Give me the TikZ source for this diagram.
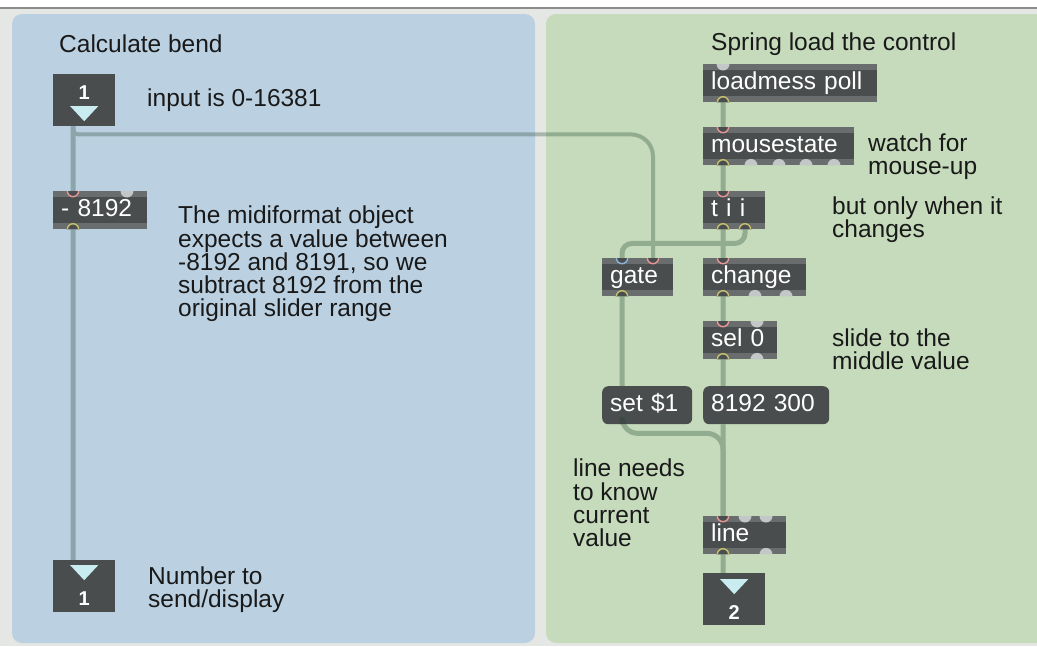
\documentclass[tikz,border=0pt]{standalone}
\usepackage{fontspec}
\setmainfont{Liberation Sans}
\usepackage{tikz}
\definecolor{mbg}{RGB}{229, 231, 229}
\definecolor{mtop}{RGB}{140, 140, 140}
\definecolor{mblue}{RGB}{187, 209, 226}
\definecolor{mgreen}{RGB}{197, 219, 187}
\definecolor{mobj}{RGB}{74, 77, 77}
\definecolor{mband}{RGB}{106, 109, 109}
\definecolor{mtri}{RGB}{200, 236, 240}
\definecolor{mhot}{RGB}{226, 150, 150}
\definecolor{mcold}{RGB}{140, 178, 220}
\definecolor{mout}{RGB}{196, 190, 112}
\definecolor{mport}{RGB}{196, 199, 199}
\definecolor{mcord}{RGB}{29, 64, 42}
\definecolor{mtext}{RGB}{25, 25, 25}
\tikzset{obj/.style = {fill=mobj, text=white, anchor=north west, minimum height=38,
                       inner xsep=8, inner ysep=0, align=left, text height=18, text depth=5,
                       path picture={\fill [mband] (path picture bounding box.north west) rectangle ([yshift=-6pt]path picture bounding box.north east);
                                     \fill [mband] (path picture bounding box.south west) rectangle ([yshift=6pt]path picture bounding box.south east);}}}
\tikzset{msg/.style = {fill=mobj, text=white, anchor=north west, rounded corners=6, minimum height=38,
                       inner xsep=8, inner ysep=0, align=left, text height=18, text depth=5}}
\tikzset{io/.style = {fill=mobj, anchor=north west, minimum width=62, minimum height=52, inner sep=0}}
\tikzset{ionum/.style = {text=white, inner sep=0, font=\fontsize{20}{20}\selectfont\bfseries}}
\tikzset{note/.style = {anchor=west, align=left, inner sep=0, text=mtext}}
\tikzset{cord/.style = {draw=mcord, line width=5}}
\tikzset{hotin/.pic = {\fill [mobj] (-6.5, 0) arc [start angle=180, end angle=0, radius=6.5] -- cycle;
                       \draw [mhot, line width=1.5] (-5.7, 0) arc [start angle=180, end angle=0, radius=5.7];}}
\tikzset{coldin/.pic = {\fill [mobj] (-6.5, 0) arc [start angle=180, end angle=0, radius=6.5] -- cycle;
                        \draw [mcold, line width=1.5] (-5.7, 0) arc [start angle=180, end angle=0, radius=5.7];}}
\tikzset{outp/.pic = {\fill [mobj] (-6.5, 0) arc [start angle=180, end angle=360, radius=6.5] -- cycle;
                      \draw [mout, line width=1.5] (-5.7, 0) arc [start angle=180, end angle=360, radius=5.7];}}
\tikzset{freein/.pic = {\fill [mport] (-6.5, 0) arc [start angle=180, end angle=0, radius=6.5] -- cycle;}}
\tikzset{freeout/.pic = {\fill [mport] (-6.5, 0) arc [start angle=180, end angle=360, radius=6.5] -- cycle;}}

\begin{document}
\begin{tikzpicture}[x=1pt, y=-1pt, font=\fontsize{24.5}{23.3}\selectfont]
    \useasboundingbox (0, 0) rectangle (1037, 646);
    \clip (0, 0) rectangle (1037, 646);
    \fill [mbg] (0, 0) rectangle (1037, 646);
    \fill [white] (0, 0) rectangle (1037, 8);
    \draw [mtop, line width=1.5] (0, 8) -- (1037, 8);

    \fill [mblue, rounded corners=10] (12, 14) rectangle (535, 643);
    \fill [mgreen, rounded corners=10] (546, 14) rectangle (1070, 643);

    % left patch
    \node [note] (calc) at (59, 44) {Calculate bend};
    \node [io] (in1) at (53, 74) {};
    \node [ionum] (in1num) at ([yshift=8pt]in1.center) {1};
    \fill [mtri] (in1.center) ++(-14, 6) -- ++(28, 0) -- ++(-14, 15) -- cycle;
    \node [note] (inrange) at (147, 100) {input is 0-16381};

    \node [obj, text width=78] (minus) at (53, 191) {- 8192};
    \node [note] (midinote) at (178, 264) {The midiformat object\\expects a value between\\-8192 and 8191, so we\\subtract 8192 from the\\original slider range};

    \node [io] (out1) at (53, 560) {};
    \node [ionum] (out1num) at ([yshift=-12pt]out1.center) {1};
    \fill [mtri] (out1.center) ++(-14, -21) -- ++(28, 0) -- ++(-14, 15) -- cycle;
    \node [note] (outnote) at (148, 590) {Number to\\send/display};

    % right patch
    \node [note] (spring) at (711, 44) {Spring load the control};
    \node [obj, text width=158] (lp) at (703, 64) {loadmess poll};
    \node [obj, text width=135] (ms) at (703, 127) {mousestate};
    \node [note] (watch) at (868, 157) {watch for\\mouse-up};
    \node [obj, text width=46] (tii) at (703, 191) {t i i};
    \node [note] (only) at (832, 220) {but only when it\\changes};
    \node [obj, text width=55] (gate) at (602, 258) {gate};
    \node [obj, text width=87] (chg) at (703, 258) {change};
    \node [obj, text width=58] (sel) at (703, 321) {sel 0};
    \node [note] (slide) at (832, 349) {slide to the\\middle value};
    \node [msg, text width=74] (set) at (602, 386) {set \$1};
    \node [msg, text width=110] (target) at (703, 386) {8192 300};
    \node [note] (needs) at (573, 503) {line needs\\to know\\current\\value};
    \node [obj, text width=67] (ln) at (703, 516) {line};
    \node [io] (out2) at (703, 573) {};
    \node [ionum] (out2num) at ([yshift=-13pt]out2.center) {2};
    \fill [mtri] (out2.center) ++(-14, -20) -- ++(28, 0) -- ++(-14, 15) -- cycle;

    \begin{scope}[transparency group, opacity=0.3]
      \draw [cord] ([xshift=20pt]in1.south west) -- ([xshift=20pt]minus.north west);
      \draw [cord, line width=4] ([xshift=20pt]in1.south west) [rounded corners=5] -- ++(0, 8) [rounded corners=22] -| ([xshift=51pt]gate.north west);
      \draw [cord] ([xshift=20pt]minus.south west) -- ([xshift=20pt]out1.north west);
      \draw [cord] ([xshift=20pt]lp.south west) -- ([xshift=20pt]ms.north west);
      \draw [cord] ([xshift=20pt]ms.south west) -- ([xshift=20pt]tii.north west);
      \draw [cord] ([xshift=20pt]tii.south west) -- ([xshift=20pt]chg.north west);
      \draw [cord, rounded corners=10] ([xshift=42pt]tii.south west) -- ++(0, 14) -| ([xshift=20pt]gate.north west);
      \draw [cord] ([xshift=20pt]gate.south west) -- ([xshift=20pt]set.north west);
      \draw [cord] ([xshift=20pt]chg.south west) -- ([xshift=20pt]sel.north west);
      \draw [cord] ([xshift=20pt]sel.south west) -- ([xshift=20pt]target.north west);
      \draw [cord, rounded corners=16] ([xshift=20pt]set.south west) -- ++(0, 9) -| ([xshift=20pt]ln.north west);
      \draw [cord] ([xshift=20pt]target.south west) -- ([xshift=20pt]ln.north west);
      \draw [cord] ([xshift=20pt]ln.south west) -- ([xshift=20pt]out2.north west);
    \end{scope}

    \pic at ([xshift=20pt]minus.north west) {hotin};
    \pic at ([xshift=74pt]minus.north west) {freein};
    \pic at ([xshift=20pt]minus.south west) {outp};
    \pic at ([xshift=20pt]lp.north west) {freein};
    \pic at ([xshift=20pt]lp.south west) {outp};
    \pic at ([xshift=20pt]ms.north west) {hotin};
    \pic at ([xshift=20pt]ms.south west) {outp};
    \foreach \k in {48, 76, 103, 131}
      \pic at ([xshift=\k pt]ms.south west) {freeout};
    \pic at ([xshift=20pt]tii.north west) {hotin};
    \pic at ([xshift=20pt]tii.south west) {outp};
    \pic at ([xshift=42pt]tii.south west) {outp};
    \pic at ([xshift=20pt]gate.north west) {coldin};
    \pic at ([xshift=51pt]gate.north west) {hotin};
    \pic at ([xshift=20pt]gate.south west) {outp};
    \pic at ([xshift=20pt]chg.north west) {hotin};
    \pic at ([xshift=20pt]chg.south west) {outp};
    \foreach \k in {52, 83}
      \pic at ([xshift=\k pt]chg.south west) {freeout};
    \pic at ([xshift=20pt]sel.north west) {hotin};
    \pic at ([xshift=54pt]sel.north west) {freein};
    \pic at ([xshift=20pt]sel.south west) {outp};
    \pic at ([xshift=54pt]sel.south west) {freeout};
    \pic at ([xshift=20pt]ln.north west) {hotin};
    \foreach \k in {42, 63}
      \pic at ([xshift=\k pt]ln.north west) {freein};
    \pic at ([xshift=20pt]ln.south west) {outp};
    \pic at ([xshift=63pt]ln.south west) {freeout};
  \end{tikzpicture}
\end{document}
